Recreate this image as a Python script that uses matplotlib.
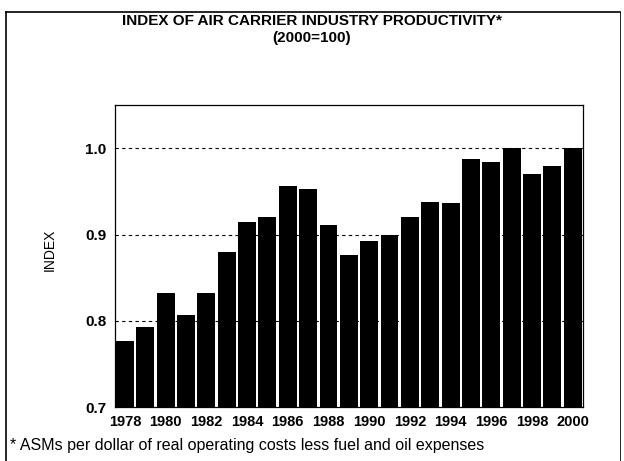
import matplotlib
matplotlib.use("Agg")
import matplotlib.pyplot as plt
from matplotlib.lines import Line2D

plt.rcParams['font.family'] = ['Liberation Sans', 'DejaVu Sans']

years = list(range(1978, 2001))
index_values = [0.777, 0.793, 0.832, 0.807, 0.832, 0.880, 0.914, 0.920, 0.956, 0.953,
                0.911, 0.876, 0.893, 0.900, 0.920, 0.938, 0.937, 0.988, 0.984, 1.000,
                0.970, 0.979, 1.000]
tick_years = years[::2]
y_ticks = [0.7, 0.8, 0.9, 1.0]

fig = plt.figure(figsize=(6.24, 4.61), dpi=100)
ax = fig.add_axes([0.184, 0.117, 0.75, 0.655])

# grid first so bars sit on top
for v in y_ticks[1:]:
    ax.axhline(v, color="black", linestyle=(0, (3, 3)), linewidth=0.8, zorder=1)

ax.bar(years, index_values, width=0.88, color="black", zorder=2)

ax.set_xlim(years[0] - 0.5, years[-1] + 0.5)
ax.set_ylim(0.7, 1.05)
ax.set_yticks(y_ticks)
ax.set_yticklabels([f"{v:.1f}" for v in y_ticks], fontsize=11, fontweight="bold")
ax.set_xticks(tick_years)
ax.set_xticklabels([str(y) for y in tick_years], fontsize=10.5, fontweight="bold")
ax.tick_params(axis="x", length=0, pad=6)
ax.tick_params(axis="y", length=0, pad=6)
ax.set_ylabel("INDEX", fontsize=10)
ax.yaxis.set_label_coords(-0.125, 0.52)
for s in ax.spines.values():
    s.set_linewidth(0.9)

fig.text(0.5, 0.955, "INDEX OF AIR CARRIER INDUSTRY PRODUCTIVITY*", ha="center", va="center",
         fontsize=11, fontweight="bold")
fig.text(0.5, 0.917, "(2000=100)", ha="center", va="center", fontsize=11, fontweight="bold")
fig.text(0.016, 0.034, "* ASMs per dollar of real operating costs less fuel and oil expenses",
         ha="left", va="center", fontsize=11.5)

# outer frame of the page
fig.add_artist(Line2D([0.01, 0.994], [0.974, 0.974], color="black", linewidth=1.2))
fig.add_artist(Line2D([0.01, 0.01], [0.0, 0.974], color="black", linewidth=1.2))
fig.add_artist(Line2D([0.994, 0.994], [0.0, 0.974], color="black", linewidth=0.6))

fig.savefig("out.png", dpi=100)
